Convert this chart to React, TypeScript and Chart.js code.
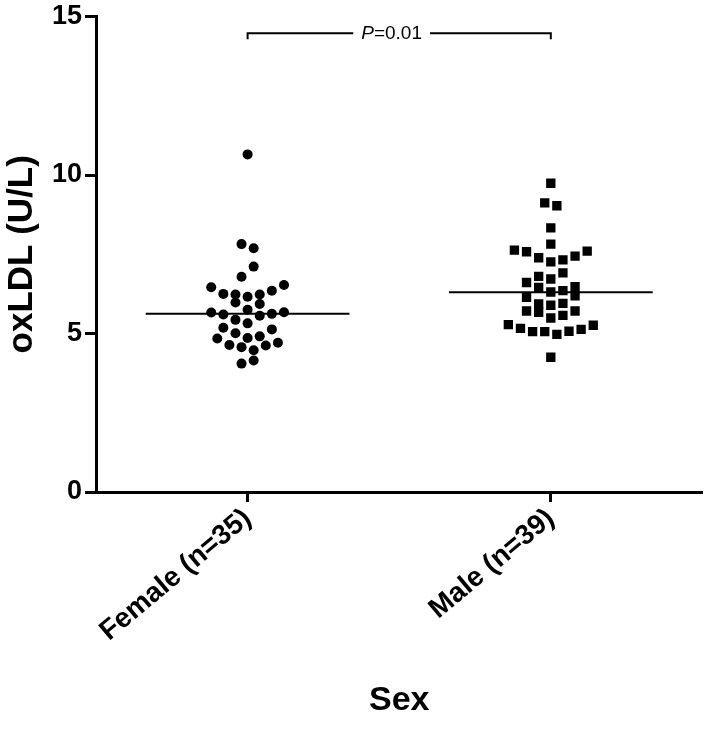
import React, { useEffect, useRef } from "react";
import { Chart, registerables } from "chart.js";

Chart.register(...registerables);

const GROUPS = ["Female (n=35)", "Male (n=39)"];
const Y_TICKS = [0, 5, 10, 15];

const FEMALE_VALUES = [
  10.65, 7.82, 7.69, 7.11, 6.79, 6.46, 6.53, 6.35, 6.25, 6.23, 6.16, 6.23, 5.98, 5.93, 5.75,
  5.66, 5.6, 5.43, 5.56, 5.62, 5.67, 5.32, 5.18, 5.13, 5.01, 4.84, 4.86, 4.91, 4.64, 4.57,
  4.62, 4.71, 4.47, 4.05, 4.15,
];
const FEMALE_SLOTS = [
  0, -1, 1, 1, -1, -6, 6, 4, -4, -2, 0, 2, -2, 2, 0, -6, -4, -2, 2, 4, 6, 0, -4, 4, -2, -5, 0, 2,
  -3, -1, 3, 5, 1, -1, 1,
];
const MALE_VALUES = [
  9.74, 9.12, 9.03, 8.33, 7.82, 7.63, 7.58, 7.6, 7.44, 7.39, 7.26, 7.32, 6.91, 6.8, 6.61, 6.72,
  6.45, 6.48, 6.31, 6.35, 6.19, 6.14, 5.93, 5.89, 5.95, 5.71, 5.67, 5.71, 5.49, 5.57, 5.28,
  5.16, 5.06, 5.06, 4.97, 5.07, 5.13, 5.26, 4.25,
];
const MALE_SLOTS = [
  0, -1, 1, 0, 0, -6, -4, 6, 4, -2, 0, 2, 2, -2, -4, 0, -2, 4, 0, 2, 4, -4, -2, 0, 2, -4, -2, 4,
  0, 2, -7, -5, -3, -1, 1, 3, 5, 7, 0,
];
const MEANS = [5.62, 6.3];
const P_TEXT_ITALIC = "P";
const P_TEXT_REST = "=0.01";
const BRACKET_Y = 14.47;
const BRACKET_TICK_Y = 14.28;
const P_LABEL_X = 0.475;

const SLOT_WIDTH = 0.02;
const MEAN_HALF = 0.336;
const FONT = "'Liberation Sans', Arial, Helvetica, sans-serif";

const toPoints = (vals: number[], slots: number[], g: number) =>
  vals.map((v, i) => ({ x: g + slots[i] * SLOT_WIDTH, y: v }));

const pLabelPlugin = {
  id: "pLabel",
  afterDatasetsDraw(chart: any) {
    const { ctx, scales } = chart;
    const cx = scales.x.getPixelForValue(P_LABEL_X);
    const cy = scales.y.getPixelForValue(BRACKET_Y);
    ctx.save();
    const italic = `italic 19px ${FONT}`;
    const normal = `19px ${FONT}`;
    ctx.font = italic;
    const w1 = ctx.measureText(P_TEXT_ITALIC).width;
    ctx.font = normal;
    const w2 = ctx.measureText(P_TEXT_REST).width;
    const total = w1 + w2;
    const x0 = cx - total / 2;
    ctx.fillStyle = "#fff";
    ctx.fillRect(x0 - 8, cy - 4, total + 16, 8);
    ctx.fillStyle = "#000";
    ctx.textBaseline = "middle";
    ctx.textAlign = "left";
    ctx.font = italic;
    ctx.fillText(P_TEXT_ITALIC, x0, cy);
    ctx.font = normal;
    ctx.fillText(P_TEXT_REST, x0 + w1, cy);
    ctx.restore();
  },
};

export default function App() {
  const ref = useRef<HTMLCanvasElement>(null);
  useEffect(() => {
    if (!ref.current) return;
    const chart = new Chart(ref.current, {
      type: "scatter",
      data: {
        datasets: [
          {
            label: "Female",
            data: toPoints(FEMALE_VALUES, FEMALE_SLOTS, 0),
            pointStyle: "circle",
            pointRadius: 5,
            pointBorderWidth: 0,
            backgroundColor: "#000",
            borderColor: "#000",
          },
          {
            label: "Male",
            data: toPoints(MALE_VALUES, MALE_SLOTS, 1),
            pointStyle: "rect",
            pointRadius: 6.6,
            pointBorderWidth: 0,
            backgroundColor: "#000",
            borderColor: "#000",
          },
          ...MEANS.map((m, g) => ({
            type: "line" as const,
            label: "mean" + g,
            data: [
              { x: g - MEAN_HALF, y: m },
              { x: g + MEAN_HALF, y: m },
            ],
            borderColor: "#000",
            borderWidth: 2,
            pointRadius: 0,
            showLine: true,
          })),
          {
            type: "line" as const,
            label: "bracket",
            data: [
              { x: 0, y: BRACKET_TICK_Y },
              { x: 0, y: BRACKET_Y },
              { x: 1, y: BRACKET_Y },
              { x: 1, y: BRACKET_TICK_Y },
            ],
            borderColor: "#000",
            borderWidth: 2,
            pointRadius: 0,
            showLine: true,
            clip: false,
          } as any,
        ],
      },
      options: {
        animation: false,
        responsive: true,
        maintainAspectRatio: false,
        layout: { padding: { top: 2, right: 0, left: 0, bottom: 0 } },
        plugins: { legend: { display: false }, tooltip: { enabled: false } },
        scales: {
          x: {
            type: "linear",
            min: -0.5,
            max: 1.5,
            afterBuildTicks: (s: any) => {
              s.ticks = GROUPS.map((_, i) => ({ value: i }));
            },
            afterFit: (s: any) => {
              s.height = 239;
            },
            ticks: {
              callback: (v: any) => GROUPS[Math.round(Number(v))],
              color: "#000",
              font: { family: FONT, size: 28, weight: "bold" },
              maxRotation: 40,
              minRotation: 40,
              autoSkip: false,
              padding: 0,
            },
            grid: {
              drawOnChartArea: false,
              drawTicks: true,
              tickLength: 10,
              tickWidth: 3,
              tickColor: "#000",
            },
            border: { color: "#000", width: 3 },
            title: {
              display: true,
              text: "Sex",
              color: "#000",
              font: { family: FONT, size: 34, weight: "bold" },
              padding: { top: 0, bottom: 10 },
            },
          },
          y: {
            type: "linear",
            min: 0,
            max: 15,
            afterBuildTicks: (s: any) => {
              s.ticks = Y_TICKS.map((v) => ({ value: v }));
            },
            afterFit: (s: any) => {
              s.width = 96;
            },
            ticks: {
              color: "#000",
              font: { family: FONT, size: 27, weight: "bold", lineHeight: 1 },
              padding: 3,
            },
            grid: {
              drawOnChartArea: false,
              drawTicks: true,
              tickLength: 11,
              tickWidth: 3,
              tickColor: "#000",
            },
            border: { color: "#000", width: 3 },
            title: {
              display: true,
              text: "oxLDL (U/L)",
              color: "#000",
              font: { family: FONT, size: 35, weight: "bold" },
              padding: { top: 1, bottom: 0 },
            },
          },
        },
      },
      plugins: [pLabelPlugin],
    } as any);
    return () => chart.destroy();
  }, []);
  return (
    <div style={{ position: "absolute", left: 0, top: 0, width: 709, height: 731, background: "#fff" }}>
      <canvas ref={ref} />
    </div>
  );
}
